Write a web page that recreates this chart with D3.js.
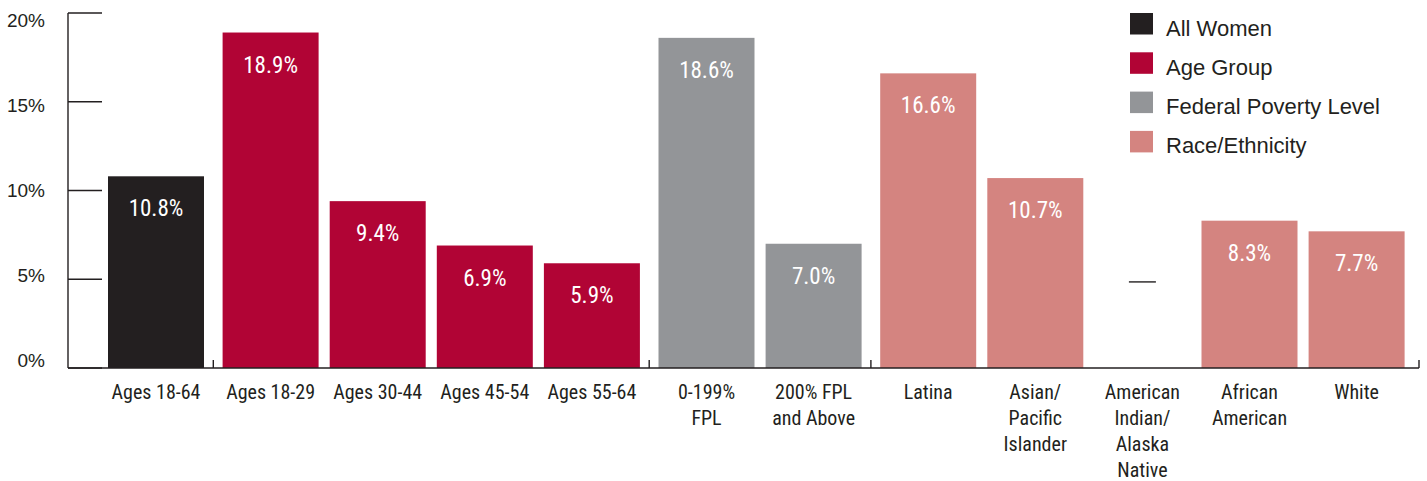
<!DOCTYPE html>
<html lang="en">
<head>
<meta charset="UTF-8">
<title>Women by group</title>
<script src="https://d3js.org/d3.v7.min.js"></script>
<style>
  body { margin: 0; background: #fff; }
  .narrow { font-family: "Liberation Sans Narrow", "Roboto Condensed", "DejaVu Sans Condensed", sans-serif; font-stretch: condensed; }
  .ylab { font-family: "Liberation Sans", Arial, sans-serif; font-size: 19px; fill: #231f20; text-anchor: end; }
  .xlab { font-size: 20px; fill: #231f20; text-anchor: middle; }
  .vlab { font-size: 23px; fill: #fff; text-anchor: middle; }
  .leg { font-family: "Liberation Sans", Arial, sans-serif; font-size: 22px; fill: #231f20; }
  .axis { stroke: #231f20; stroke-width: 1.4; fill: none; }
</style>
</head>
<body>
<div id="chart"></div>
<script>
const width = 1427, height = 481;

// data
const categories = ["Ages 18-64", "Ages 18-29", "Ages 30-44", "Ages 45-54", "Ages 55-64",
  "0-199% FPL", "200% FPL and Above", "Latina", "Asian/Pacific Islander",
  "American Indian/Alaska Native", "African American", "White"];
const labelLines = [["Ages 18-64"], ["Ages 18-29"], ["Ages 30-44"], ["Ages 45-54"], ["Ages 55-64"],
  ["0-199%", "FPL"], ["200% FPL", "and Above"], ["Latina"], ["Asian/", "Pacific", "Islander"],
  ["American", "Indian/", "Alaska", "Native"], ["African", "American"], ["White"]];
const values = [10.8, 18.9, 9.4, 6.9, 5.9, 18.6, 7.0, 16.6, 10.7, null, 8.3, 7.7];
const groupOf = [0, 1, 1, 1, 1, 2, 2, 3, 3, 3, 3, 3];
const groupNames = ["All Women", "Age Group", "Federal Poverty Level", "Race/Ethnicity"];
const groupColors = ["#231f20", "#b10435", "#939598", "#d48480"];
const yTicks = [0, 5, 10, 15, 20];
const missingMark = 4.85; // where the "—" for no data sits

const axisX = 68, axisTop = 13, baseY = 368, axisRight = 1419;
const groupGap = 7.5;

const svg = d3.select("#chart").append("svg")
  .attr("width", width).attr("height", height);

const y = d3.scaleLinear().domain([0, 20]).range([baseY, axisTop]);
// tick labels in the original sit on a slightly tighter scale than the ticks
const yLabel = d3.scaleLinear().domain([0, 20]).range([baseY - 8, axisTop + 7]);

const x = d3.scaleBand().domain(categories)
  .range([108, 108 + 11 * 107.1 + 96])
  .paddingInner(1 - 96 / 107.1).paddingOuter(0);
const bx = i => x(categories[i]) + groupOf[i] * groupGap;
const bw = x.bandwidth();

// y axis
svg.append("line").attr("class", "axis")
  .attr("x1", axisX).attr("x2", axisX).attr("y1", y(20)).attr("y2", y(0));
svg.selectAll(".ytick").data(yTicks).join("line")
  .attr("class", "axis ytick")
  .attr("x1", axisX).attr("x2", axisX + 34)
  .attr("y1", d => y(d)).attr("y2", d => y(d));
svg.selectAll(".ylab").data(yTicks).join("text")
  .attr("class", "ylab")
  .attr("x", 45).attr("y", d => yLabel(d))
  .attr("dy", "0.35em")
  .text(d => d + "%");

// bars
const idx = d3.range(values.length).filter(i => values[i] != null);
svg.selectAll(".bar").data(idx).join("rect")
  .attr("class", "bar")
  .attr("x", i => bx(i))
  .attr("y", i => y(values[i]))
  .attr("width", bw)
  .attr("height", i => y(0) - y(values[i]))
  .attr("fill", i => groupColors[groupOf[i]]);

// value labels + category labels
values.forEach((v, i) => {
  const cx = bx(i) + bw / 2;
  if (v == null) {
    svg.append("line").attr("class", "axis")
      .attr("x1", cx - 13.5).attr("x2", cx + 13.5)
      .attr("y1", y(missingMark)).attr("y2", y(missingMark));
  } else {
    svg.append("text").attr("class", "vlab narrow")
      .attr("x", cx).attr("y", y(v) + 40)
      .text(v.toFixed(1) + "%");
  }
  const t = svg.append("text").attr("class", "xlab narrow")
    .attr("x", cx).attr("y", 398.5);
  labelLines[i].forEach((l, k) => {
    t.append("tspan").attr("x", cx).attr("dy", k === 0 ? 0 : 26).text(l);
  });
});

// baseline with group separators
svg.append("line").attr("class", "axis")
  .attr("x1", axisX).attr("x2", axisRight).attr("y1", baseY).attr("y2", baseY);
const seps = [];
for (let i = 1; i < categories.length; i++) {
  if (groupOf[i] !== groupOf[i - 1]) seps.push((bx(i - 1) + bw + bx(i)) / 2);
}
seps.push(axisRight);
svg.selectAll(".sep").data(seps).join("line")
  .attr("class", "axis sep")
  .attr("x1", d => d).attr("x2", d => d)
  .attr("y1", baseY).attr("y2", baseY - 8);

// legend
const leg = svg.append("g").attr("transform", "translate(1130,13)");
groupNames.forEach((g, i) => {
  leg.append("rect").attr("x", 0).attr("y", i * 39.3)
    .attr("width", 23).attr("height", 21.5).attr("fill", groupColors[i]);
  leg.append("text").attr("class", "leg")
    .attr("x", 36).attr("y", i * 39.3 + 22.5).text(g);
});
</script>
</body>
</html>
